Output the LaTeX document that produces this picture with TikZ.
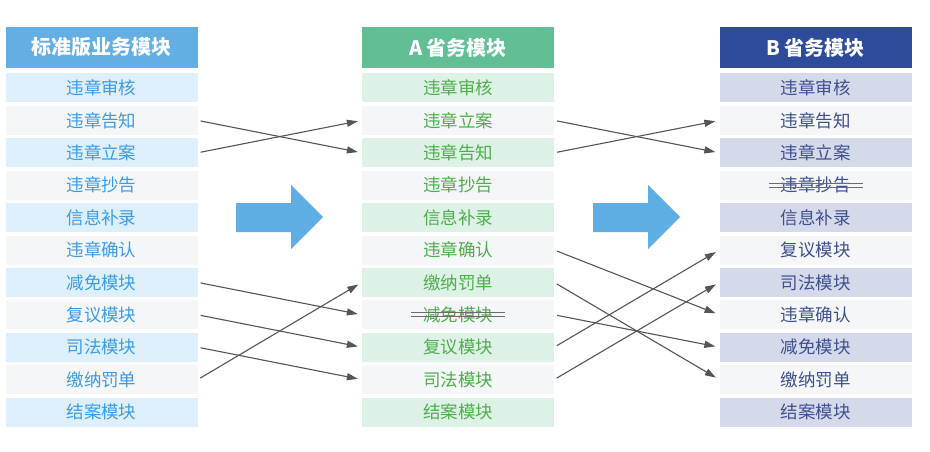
\documentclass[tikz,border=0pt]{standalone}
\usepackage{fontspec}
\setmainfont{Noto Sans CJK SC}
\usetikzlibrary{arrows.meta}
\definecolor{lhdr}{HTML}{63AEE3}
\definecolor{lrow}{HTML}{DDEFFB}
\definecolor{ltxt}{HTML}{3D9BE6}
\definecolor{mhdr}{HTML}{62BF95}
\definecolor{mrow}{HTML}{DDF1E6}
\definecolor{mtxt}{HTML}{4DAF4A}
\definecolor{rhdr}{HTML}{2D4B9A}
\definecolor{rrow}{HTML}{D5DAEB}
\definecolor{rtxt}{HTML}{3F4F8F}
\definecolor{grow}{HTML}{F4F6F7}
\definecolor{bigarrow}{HTML}{5FAEE3}
\definecolor{conncol}{HTML}{555555}
\begin{document}
\begin{tikzpicture}[x=1pt,y=-1pt,
  hdr/.style={minimum width=192pt,minimum height=41pt,inner sep=0pt,text=white,font=\bfseries\fontsize{20}{20}\selectfont},
  rowbox/.style={minimum width=192pt,minimum height=29pt,inner sep=0pt,font=\fontsize{17.5}{17.5}\selectfont},
  conn/.style={draw=conncol,line width=1.1pt,-{Triangle[length=11pt,width=7pt]},shorten <=3pt,shorten >=4pt},
  strike/.style={draw=gray!85!black,line width=1.1pt},
  blockarrow/.style={fill=bigarrow}]
\useasboundingbox (0,0) rectangle (930,452);
\fill[white] (0,0) rectangle (930,452);
% headers
\node[hdr,fill=lhdr] (LH) at (101.5,47.5) {标准版业务模块};
\node[hdr,fill=mhdr] (MH) at (458,47.5) {A\hspace{4pt}省务模块};
\node[hdr,fill=rhdr] (RH) at (815.5,47.5) {B\hspace{4pt}省务模块};
% left column
\foreach \t [count=\i] in {违章审核,违章告知,违章立案,违章抄告,信息补录,违章确认,减免模块,复议模块,司法模块,缴纳罚单,结案模块}{
  \pgfmathsetmacro\yy{88+32.4*(\i-1)}
  \pgfmathtruncatemacro\odd{mod(\i,2)}
  \ifnum\odd=1 \def\fc{lrow}\else\def\fc{grow}\fi
  \node[rowbox,fill=\fc,text=ltxt] (L\i) at (101.5,\yy) {\t};
}
% middle column
\foreach \t [count=\i] in {违章审核,违章立案,违章告知,违章抄告,信息补录,违章确认,缴纳罚单,减免模块,复议模块,司法模块,结案模块}{
  \pgfmathsetmacro\yy{88+32.4*(\i-1)}
  \pgfmathtruncatemacro\odd{mod(\i,2)}
  \ifnum\odd=1 \def\fc{mrow}\else\def\fc{grow}\fi
  \node[rowbox,fill=\fc,text=mtxt] (M\i) at (458,\yy) {\t};
}
% right column
\foreach \t [count=\i] in {违章审核,违章告知,违章立案,违章抄告,信息补录,复议模块,司法模块,违章确认,减免模块,缴纳罚单,结案模块}{
  \pgfmathsetmacro\yy{88+32.4*(\i-1)}
  \pgfmathtruncatemacro\odd{mod(\i,2)}
  \ifnum\odd=1 \def\fc{rrow}\else\def\fc{grow}\fi
  \node[rowbox,fill=\fc,text=rtxt] (R\i) at (815.5,\yy) {\t};
}
% strikethroughs
\foreach \n in {M8,R4}{
  \draw[strike] ([xshift=-47pt,yshift=2pt]\n.center) -- ([xshift=47pt,yshift=2pt]\n.center);
  \draw[strike] ([xshift=-47pt,yshift=-2pt]\n.center) -- ([xshift=47pt,yshift=-2pt]\n.center);
}
% block arrows
\fill[blockarrow] (236,203) -- (291,203) -- (291,185) -- (323,217) -- (291,249) -- (291,232) -- (236,232) -- cycle;
\fill[blockarrow] (593,203) -- (648,203) -- (648,185) -- (680,217) -- (648,249) -- (648,232) -- (593,232) -- cycle;
% connectors left -> middle
\draw[conn] (L2.east) -- (M3.west);
\draw[conn] (L3.east) -- (M2.west);
\draw[conn] (L7.east) -- (M8.west);
\draw[conn] (L8.east) -- (M9.west);
\draw[conn] (L9.east) -- (M10.west);
\draw[conn] (L10.east) -- (M7.west);
% connectors middle -> right
\draw[conn] (M2.east) -- (R3.west);
\draw[conn] (M3.east) -- (R2.west);
\draw[conn] (M6.east) -- (R8.west);
\draw[conn] (M7.east) -- (R10.west);
\draw[conn] (M8.east) -- (R9.west);
\draw[conn] (M9.east) -- (R6.west);
\draw[conn] (M10.east) -- (R7.west);
\end{tikzpicture}
\end{document}
